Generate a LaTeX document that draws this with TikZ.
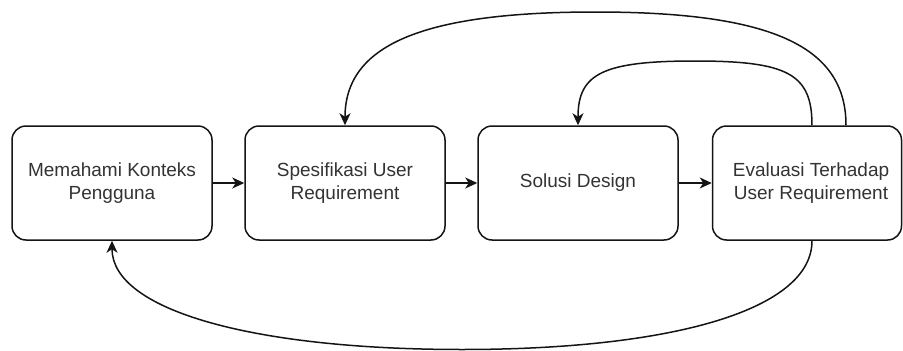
\documentclass[tikz,border=0pt]{standalone}
\usepackage{fontspec}
\setmainfont{Liberation Sans}
\usetikzlibrary{arrows.meta,calc}
\definecolor{txt}{RGB}{51,51,51}
\definecolor{ln}{RGB}{20,20,20}
\tikzset{
  procbox/.style={draw=ln, line width=1.5pt, rounded corners=14pt, fill=white,
    minimum width=200pt, minimum height=114pt, inner sep=0pt},
  lbl/.style={align=center, text=txt, font=\fontsize{19}{23}\selectfont, inner sep=0pt},
  conn/.style={draw=ln, line width=1.5pt, -{Stealth[length=12pt,width=11pt,inset=3.5pt]}},
}
\begin{document}
\begin{tikzpicture}[x=1pt,y=-1pt]
\useasboundingbox (0,0) rectangle (903,351);
\node[procbox] (a) at (112,183) {};
\node[lbl] (atext) at (112,183) {Memahami Konteks\\Pengguna};
\node[procbox] (b) at (345,183) {};
\node[lbl] (btext) at (345,183) {Spesifikasi User\\Requirement};
\node[procbox] (c) at (578,183) {};
\node[lbl] (ctext) at (578,183) {Solusi Design};
\node[procbox, minimum width=189pt] (d) at (807,183) {};
\node[lbl] (dtext) at (811,183) {Evaluasi Terhadap\\User Requirement};
% straight connectors
\draw[conn] (a.east) -- (b.west);
\draw[conn] (b.east) -- (c.west);
\draw[conn] (c.east) -- (d.west);
% outer top loop: d -> b
\draw[conn] ($(d.north)+(39,0)$) .. controls (846,46) and (771,12) .. (595.5,12)
   .. controls (420,12) and (345,46) .. (b.north);
% inner top loop: d -> c
\draw[conn] ($(d.north)+(5,0)$) .. controls (812,74) and (788,61) .. (695,61)
   .. controls (602,61) and (578,74) .. (c.north);
% bottom loop: d -> a
\draw[conn] ($(d.south)+(5,0)$) .. controls (812,310) and (672,349.5) .. (462,349.5)
   .. controls (252,349.5) and (112,310) .. (a.south);
\end{tikzpicture}
\end{document}
